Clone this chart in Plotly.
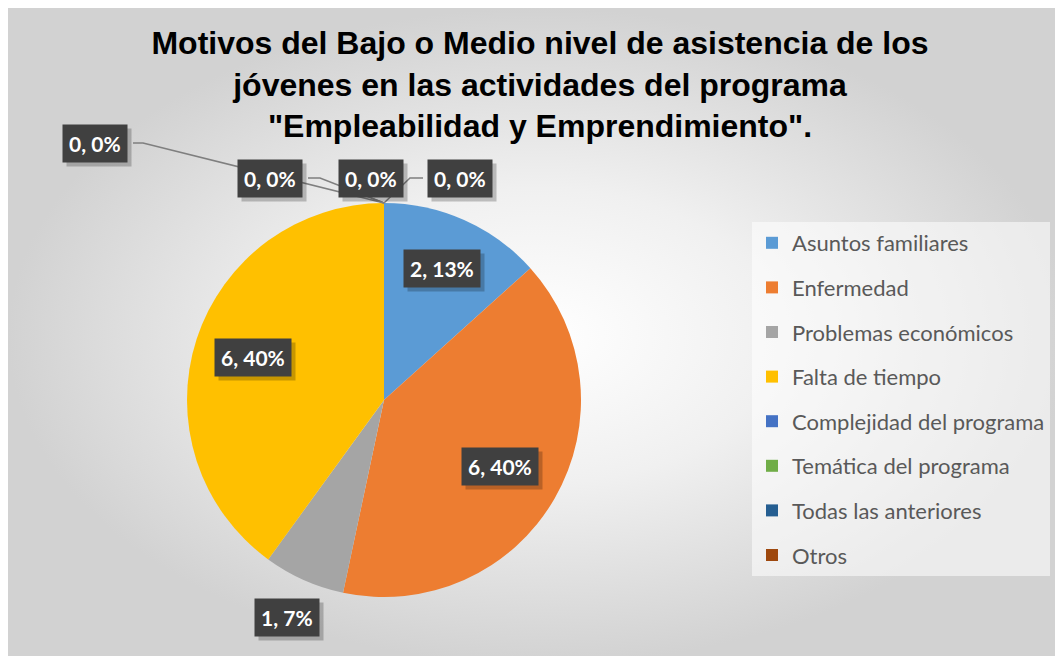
import math
import plotly.graph_objects as go

# datos del grafico
categorias = [
    "Asuntos familiares",
    "Enfermedad",
    "Problemas económicos",
    "Falta de tiempo",
    "Complejidad del programa",
    "Temática del programa",
    "Todas las anteriores",
    "Otros",
]
valores = [2, 6, 1, 6, 0, 0, 0, 0]
colores = ["#5B9BD5", "#ED7D31", "#A5A5A5", "#FFC000",
           "#4472C4", "#70AD47", "#255E91", "#9E480E"]
titulo = ("Motivos del Bajo o Medio nivel de asistencia de los<br>"
          "jóvenes en las actividades del programa<br>"
          "\"Empleabilidad y Emprendimiento\".")

W, H = 1063, 656
OFF = 8  # the page body adds an 8px margin


def px(x, y):
    # page pixel -> paper
    return (x - OFF) / W, 1 - (y - OFF) / H


# pie geometry (page pixels)
PIE_CX, PIE_CY, PIE_R = 384, 400, 197
# distance of each label from the centre, as a fraction of the radius
label_r = [0.73, 0.68, 1.21, 0.70]
# label boxes for the empty slices, placed by hand like in Excel
zero_boxes = [(95, 144), (270, 178), (371, 178), (460, 178)]

fig = go.Figure()

# background with radial gradient
fig.add_trace(go.Scatter(
    x=[0, 1, 1, 0, 0], y=[0, 0, 1, 1, 0],
    fill="toself", mode="lines", line=dict(width=0),
    fillgradient=dict(type="radial",
                      colorscale=[[0, "#ffffff"], [0.45, "#f0f0f0"], [1, "#d2d2d2"]]),
    showlegend=False, hoverinfo="skip",
))

dx0, dy0 = px(PIE_CX - PIE_R, PIE_CY + PIE_R)
dx1, dy1 = px(PIE_CX + PIE_R, PIE_CY - PIE_R)
fig.add_trace(go.Pie(
    labels=categorias, values=valores,
    marker=dict(colors=colores, line=dict(width=0)),
    sort=False, direction="clockwise", rotation=0,
    textinfo="none", showlegend=False,
    domain=dict(x=[dx0, dx1], y=[dy0, dy1]),
    hovertemplate="%{label}: %{value}, %{percent:.0%}<extra></extra>",
))

# legend entries (one group each so the spacing can be set)
for cat, col in zip(categorias, colores):
    fig.add_trace(go.Scatter(
        x=[None], y=[None], mode="markers", name=cat, legendgroup=cat,
        marker=dict(symbol="square", size=12, color=col),
    ))

# data labels
total = sum(valores)
acum = 0
annots = []
zi = 0
for i, v in enumerate(valores):
    texto = f"<b>{v}, {round(100 * v / total)}%</b>"
    if v > 0:
        ang = math.radians(360 * (acum + v / 2) / total)
        lx = PIE_CX + label_r[i] * PIE_R * math.sin(ang)
        ly = PIE_CY - label_r[i] * PIE_R * math.cos(ang)
    else:
        lx, ly = zero_boxes[zi]
        zi += 1
    acum += v
    ax, ay = px(lx, ly)
    base = dict(x=ax, y=ay, xref="paper", yref="paper", showarrow=False,
                xanchor="center", yanchor="middle", text=texto, borderpad=6)
    # shadow
    annots.append(dict(base, font=dict(family="Lato", size=21, color="rgba(0,0,0,0)"),
                       bgcolor="rgba(0,0,0,0.22)", xshift=4, yshift=-4))
    annots.append(dict(base, font=dict(family="Lato", size=21, color="white"),
                       bgcolor="#404040"))

# leader lines for the empty slices
lineas = [
    [(133, 143), (143, 143), (384, 203)],
    [(308, 178), (320, 178), (384, 203)],
    [(371, 198), (384, 203)],
    [(423, 178), (410, 178), (384, 203)],
]
shapes = []
for pts in lineas:
    p = [px(*q) for q in pts]
    path = "M " + " L ".join(f"{a},{b}" for a, b in p)
    shapes.append(dict(type="path", path=path, xref="paper", yref="paper",
                       line=dict(color="#7f7f7f", width=1.5), layer="above"))

tx, ty = px(540, 54)
lgx, lgy = px(752, 222)
fig.update_layout(
    width=W, height=H, autosize=False,
    margin=dict(l=0, r=0, t=0, b=0),
    paper_bgcolor="white", plot_bgcolor="rgba(0,0,0,0)",
    xaxis=dict(range=[0, 1], domain=[0, 1], visible=False, fixedrange=True),
    yaxis=dict(range=[0, 1], domain=[0, 1], visible=False, fixedrange=True),
    title=dict(text=titulo, x=tx, xanchor="center", y=ty, yanchor="middle",
               font=dict(family="Liberation Sans", size=32, color="black", weight="bold")),
    legend=dict(x=lgx, xanchor="left", y=lgy, yanchor="top",
                bgcolor="rgba(255,255,255,0.55)", font=dict(family="Lato", size=22, color="#595959"),
                tracegroupgap=13, itemsizing="constant"),
    annotations=annots,
    shapes=shapes,
)

fig.write_html("out.html")
